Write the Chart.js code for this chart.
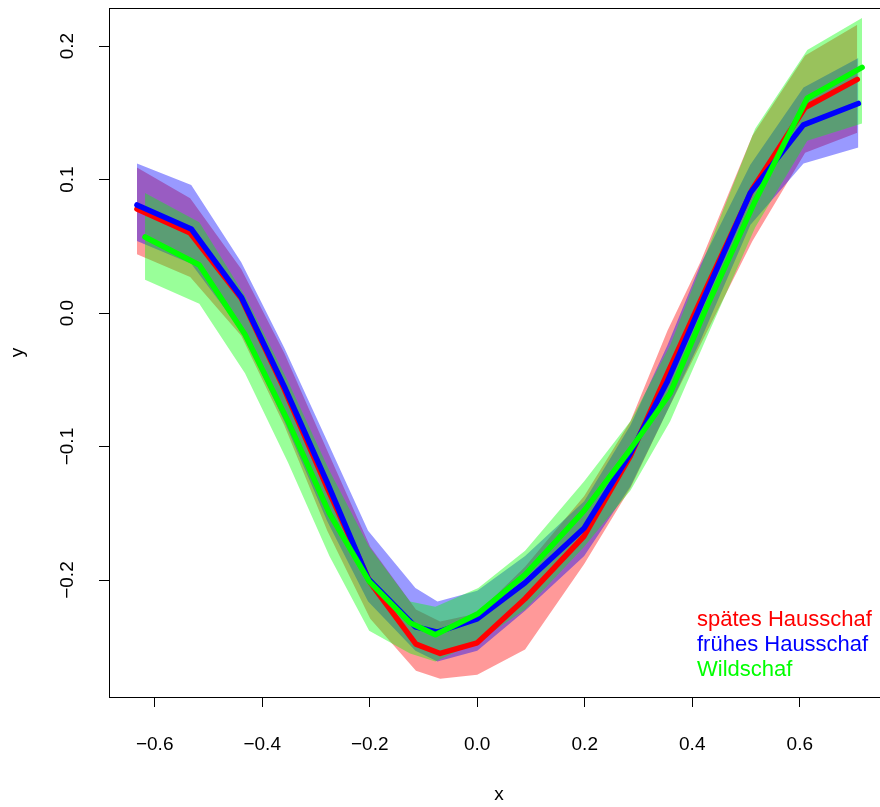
<!DOCTYPE html>
<html lang="de">
<head>
    <meta charset="UTF-8">
    <title>Schafe</title>
    <script src="https://cdn.jsdelivr.net/npm/chart.js@4.4.0/dist/chart.umd.min.js"></script>
    <style>
        html, body {
            margin: 0;
            padding: 0;
            background: #fff;
            overflow: hidden;
        }

        .chart-container {
            position: relative;
            width: 890px;
            height: 807px;
        }
    </style>
</head>
<body>
<div class="chart-container">
    <canvas id="canvas"></canvas>
</div>

<script>
    var seriesNames = ['spätes Hausschaf', 'frühes Hausschaf', 'Wildschaf'];
    var lineColors = ['#ff0000', '#0000ff', '#00ff00'];
    var bandColors = ['rgba(255,0,0,0.4)', 'rgba(0,0,255,0.4)', 'rgba(0,255,0,0.4)'];

    // spätes Hausschaf
    var spaetX = [-0.633, -0.534, -0.439, -0.359, -0.279, -0.199, -0.114, -0.069, 0.000, 0.089, 0.199, 0.285, 0.354, 0.415, 0.512, 0.610, 0.707];
    var spaetY = [0.078, 0.060, 0.011, -0.057, -0.131, -0.202, -0.248, -0.255, -0.247, -0.214, -0.167, -0.107, -0.045, 0.009, 0.093, 0.154, 0.175];
    var spaetHi = [0.109, 0.086, 0.033, -0.030, -0.103, -0.175, -0.222, -0.231, -0.225, -0.190, -0.137, -0.081, -0.013, 0.038, 0.133, 0.193, 0.216];
    var spaetLo = [0.044, 0.027, -0.017, -0.084, -0.163, -0.229, -0.268, -0.274, -0.271, -0.252, -0.188, -0.131, -0.073, -0.024, 0.054, 0.120, 0.135];

    // frühes Hausschaf
    var fruehX = [-0.633, -0.532, -0.439, -0.359, -0.279, -0.203, -0.115, -0.074, 0.000, 0.089, 0.199, 0.285, 0.354, 0.415, 0.508, 0.607, 0.709];
    var fruehY = [0.081, 0.063, 0.012, -0.055, -0.127, -0.199, -0.235, -0.239, -0.229, -0.202, -0.161, -0.105, -0.051, 0.005, 0.090, 0.141, 0.157];
    var fruehHi = [0.112, 0.096, 0.038, -0.026, -0.096, -0.163, -0.206, -0.216, -0.208, -0.182, -0.141, -0.084, -0.024, 0.036, 0.111, 0.169, 0.191];
    var fruehLo = [0.054, 0.037, -0.013, -0.081, -0.156, -0.216, -0.253, -0.261, -0.253, -0.223, -0.182, -0.130, -0.073, -0.021, 0.066, 0.112, 0.124];

    // Wildschaf
    var wildX = [-0.618, -0.517, -0.432, -0.352, -0.275, -0.201, -0.125, -0.078, 0.002, 0.089, 0.199, 0.285, 0.359, 0.424, 0.517, 0.614, 0.716];
    var wildY = [0.057, 0.036, -0.016, -0.081, -0.150, -0.201, -0.232, -0.241, -0.225, -0.196, -0.148, -0.102, -0.060, 0.002, 0.084, 0.161, 0.184];
    var wildHi = [0.090, 0.068, 0.013, -0.051, -0.118, -0.175, -0.216, -0.220, -0.206, -0.178, -0.126, -0.081, -0.024, 0.043, 0.138, 0.197, 0.221];
    var wildLo = [0.025, 0.007, -0.045, -0.112, -0.182, -0.238, -0.255, -0.261, -0.246, -0.222, -0.175, -0.133, -0.081, -0.021, 0.064, 0.129, 0.142];

    var xTicks = [-0.6, -0.4, -0.2, 0.0, 0.2, 0.4, 0.6];
    var yTicks = [-0.2, -0.1, 0.0, 0.1, 0.2];

    var FONT = '"Liberation Sans", Arial, Helvetica, sans-serif';
    Chart.defaults.font.family = FONT;
    Chart.defaults.color = '#000';

    function pts(xs, ys) {
        return xs.map(function (x, i) {
            return {x: x, y: ys[i]};
        });
    }

    function fmt(v) {
        return v.toFixed(1).replace('-', '\u2212');
    }

    function band(xs, lo, hi, i) {
        return [{
            data: pts(xs, hi),
            fill: '+1',
            backgroundColor: bandColors[i],
            borderWidth: 0,
            pointRadius: 0,
            order: 20 - i
        }, {
            data: pts(xs, lo),
            fill: false,
            borderWidth: 0,
            pointRadius: 0,
            order: 20 - i
        }];
    }

    function line(xs, ys, i) {
        return {
            label: seriesNames[i],
            data: pts(xs, ys),
            fill: false,
            borderColor: lineColors[i],
            borderWidth: 5.5,
            borderCapStyle: 'round',
            borderJoinStyle: 'round',
            pointRadius: 0,
            order: 5 - i
        };
    }

    var datasets = []
        .concat(band(spaetX, spaetLo, spaetHi, 0))
        .concat(band(fruehX, fruehLo, fruehHi, 1))
        .concat(band(wildX, wildLo, wildHi, 2))
        .concat([line(spaetX, spaetY, 0), line(fruehX, fruehY, 1), line(wildX, wildY, 2)]);

    var framePlugin = {
        id: 'frame',
        afterDraw: function (chart) {
            var a = chart.chartArea, ctx = chart.ctx;
            ctx.save();
            ctx.strokeStyle = '#000';
            ctx.lineWidth = 1;
            ctx.strokeRect(Math.round(a.left) + 0.5, Math.round(a.top) + 0.5,
                Math.round(a.right - a.left), Math.round(a.bottom - a.top));
            // legend, no symbols, just coloured text
            ctx.font = '22px ' + FONT;
            ctx.textBaseline = 'middle';
            ctx.textAlign = 'left';
            seriesNames.forEach(function (name, i) {
                ctx.fillStyle = lineColors[i];
                ctx.fillText(name, 697, 620 + i * 25);
            });
            ctx.restore();
        }
    };

    window.onload = function () {
        var ctx = document.getElementById('canvas').getContext('2d');
        window.myChart = new Chart(ctx, {
            type: 'line',
            data: {datasets: datasets},
            plugins: [framePlugin],
            options: {
                responsive: true,
                maintainAspectRatio: false,
                animation: false,
                layout: {padding: {top: 8, right: 1, left: 0, bottom: 0}},
                plugins: {
                    legend: {display: false},
                    tooltip: {enabled: false},
                    filler: {drawTime: 'beforeDatasetsDraw'}
                },
                scales: {
                    x: {
                        type: 'linear',
                        min: -0.685,
                        max: 0.766,
                        afterBuildTicks: function (s) {
                            s.ticks = xTicks.map(function (v) { return {value: v}; });
                        },
                        afterFit: function (s) {
                            s.height = 110;
                            s.paddingLeft = 0;
                            s.paddingRight = 0;
                        },
                        ticks: {
                            font: {size: 19},
                            color: '#000',
                            padding: 26,
                            maxRotation: 0,
                            autoSkip: false,
                            callback: fmt
                        },
                        grid: {drawOnChartArea: false, tickLength: 10, tickColor: '#000', tickWidth: 1},
                        border: {display: false},
                        title: {display: true, text: 'x', font: {size: 19}, color: '#000', padding: {top: 0, bottom: 1}}
                    },
                    y: {
                        type: 'linear',
                        min: -0.2876,
                        max: 0.2285,
                        afterBuildTicks: function (s) {
                            s.ticks = yTicks.map(function (v) { return {value: v}; });
                        },
                        afterFit: function (s) {
                            s.width = 109;
                            s.paddingTop = 0;
                            s.paddingBottom = 0;
                        },
                        ticks: {
                            font: {size: 19},
                            color: '#000',
                            padding: 12,
                            minRotation: 90,
                            maxRotation: 90,
                            crossAlign: 'center',
                            autoSkip: false,
                            callback: fmt
                        },
                        grid: {drawOnChartArea: false, tickLength: 10, tickColor: '#000', tickWidth: 1},
                        border: {display: false},
                        title: {display: true, text: 'y', font: {size: 19}, color: '#000', padding: {top: 6, bottom: 0}}
                    }
                }
            }
        });
    };
</script>
</body>
</html>
